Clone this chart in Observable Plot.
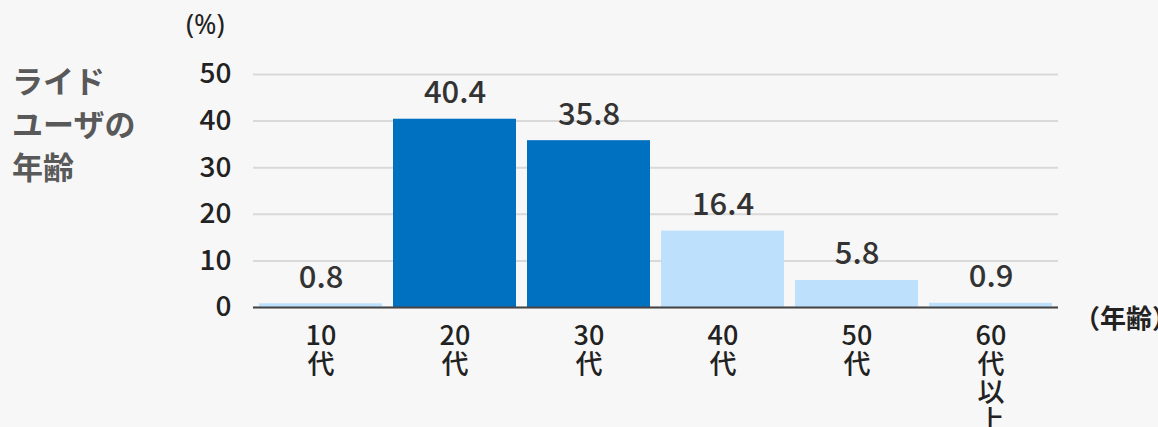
<!DOCTYPE html>
<html><head><meta charset="utf-8">
<script src="https://cdn.jsdelivr.net/npm/d3@7"></script>
<script src="https://cdn.jsdelivr.net/npm/@observablehq/plot@0.6"></script>
<style>
html,body{margin:0;padding:0;background:#f7f7f7;}
#wrap{position:relative;width:1158px;height:427px;overflow:hidden;font-family:"Noto Sans CJK JP","Noto Sans",sans-serif;}
.ttl{position:absolute;left:12px;top:58px;font-size:31px;font-weight:bold;color:#595959;line-height:43px;}
.unit{position:absolute;left:186px;top:5px;font-size:27px;color:#222;font-family:"Noto Sans","Noto Sans CJK JP",sans-serif;}
.xunit{position:absolute;left:1074px;top:298px;font-size:26px;color:#222;font-weight:bold;white-space:nowrap;}
</style></head>
<body><div id="wrap"><div class="ttl">ライド<br>ユーザの<br>年齢</div><div class="unit">(%)</div><div class="xunit">（年齢）</div></div>
<script>
const ages = ["10代","20代","30代","40代","50代","60代以上"];
const tickLabels = ["10\n代","20\n代","30\n代","40\n代","50\n代","60\n代\n以\n上"];
const shares = [0.8, 40.4, 35.8, 16.4, 5.8, 0.9];
const groups = ["other","main","main","other","other","other"];
const yTicks = [0,10,20,30,40,50];

const data = ages.map((a,i)=>({age:a, share:shares[i], group:groups[i], label:tickLabels[i]}));
const labelOf = new Map(data.map(d=>[d.age,d.label]));

const chart = Plot.plot({
  width:1158, height:427,
  marginLeft:253, marginRight:100, marginTop:74, marginBottom:120,
  style:{background:"transparent", fontFamily:"'Noto Sans CJK JP','Noto Sans',sans-serif", color:"#222"},
  x:{domain:ages, paddingInner:0.085, paddingOuter:0.04, label:null},
  y:{domain:[0,50], label:null},
  color:{domain:["main","other"], range:["#0070c0","#bde0fd"]},
  marks:[
    Plot.gridY(yTicks,{stroke:"#d9d9d9", strokeOpacity:1, strokeWidth:2}),
    Plot.barY(data,{x:"age", y:"share", fill:"group"}),
    Plot.ruleY([0],{stroke:"#444", strokeWidth:2}),
    Plot.ruleX([0],{frameAnchor:"left", stroke:"#444", strokeWidth:2}),
    Plot.axisY(yTicks,{tickSize:0, tickPadding:22, fontSize:28, fontWeight:500, label:null, fill:"#222", fontFamily:"'Noto Sans CJK JP','Noto Sans',sans-serif"}),
    Plot.axisX({tickSize:0, tickPadding:18, fontSize:27, fontWeight:500, label:null, fill:"#222", lineHeight:1.04, tickFormat:d=>labelOf.get(d), fontFamily:"'Noto Sans CJK JP',sans-serif"}),
    Plot.text(data,{x:"age", y:"share", text:d=>d.share.toFixed(1), lineAnchor:"bottom", dy:-16, fontSize:31, fontWeight:500, fill:"#333", fontFamily:"'Noto Sans CJK JP','Noto Sans',sans-serif"})
  ]
});
chart.style.position="absolute"; chart.style.left="0"; chart.style.top="0";
document.getElementById("wrap").prepend(chart);
</script>
</body></html>
